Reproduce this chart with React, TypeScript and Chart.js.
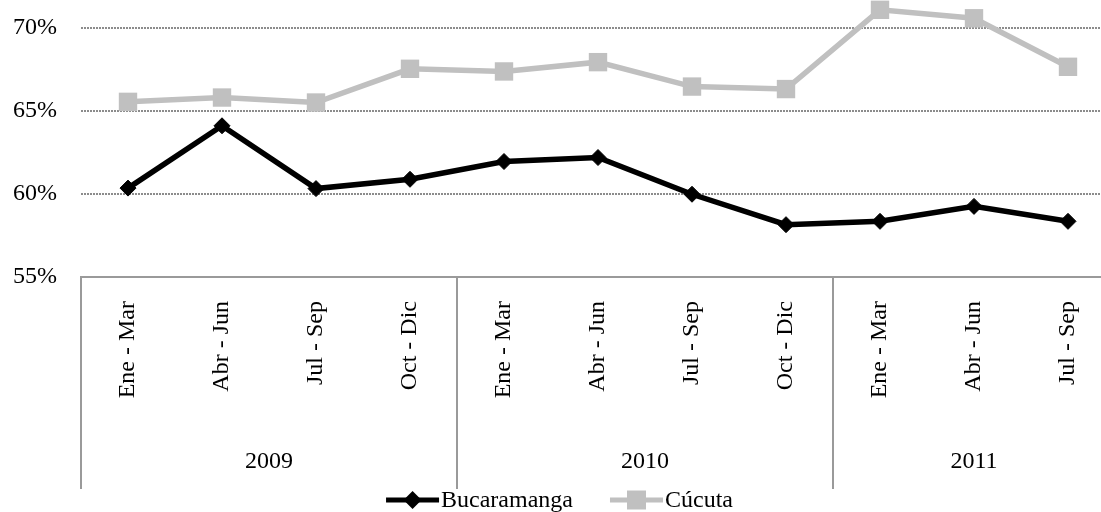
import React, { useEffect, useRef } from 'react';
import { Chart, registerables } from 'chart.js';

Chart.register(...registerables);

const quarters = [
  'Ene - Mar', 'Abr - Jun', 'Jul - Sep', 'Oct - Dic',
  'Ene - Mar', 'Abr - Jun', 'Jul - Sep', 'Oct - Dic',
  'Ene - Mar', 'Abr - Jun', 'Jul - Sep',
];
const years = ['2009', '2010', '2011'];
const yearSizes = [4, 4, 3];
const bucaramanga = [60.35, 64.1, 60.32, 60.88, 61.95, 62.19, 59.98, 58.15, 58.35, 59.25, 58.35];
const cucuta = [65.54, 65.8, 65.5, 67.53, 67.37, 67.93, 66.46, 66.31, 71.08, 70.57, 67.65];
const yTicks = [55, 60, 65, 70];
const seriesNames = ['Bucaramanga', 'Cúcuta'];

const FONT = "'Liberation Serif', 'Times New Roman', serif";
const CANVAS_W = 1115;
const CANVAS_H = 525;
const PLOT_BOTTOM = 277;

function drawMarker(ctx: CanvasRenderingContext2D, style: string, x: number, y: number, color: string) {
  ctx.fillStyle = color;
  ctx.beginPath();
  if (style === 'rectRot') {
    const r = 9;
    ctx.moveTo(x - r, y);
    ctx.lineTo(x, y - r);
    ctx.lineTo(x + r, y);
    ctx.lineTo(x, y + r);
    ctx.closePath();
  } else {
    const s = 9.5;
    ctx.rect(x - s, y - s, 2 * s, 2 * s);
  }
  ctx.fill();
}

const hierarchyPlugin = {
  id: 'hierarchy',
  afterDraw(chart: any) {
    const ctx: CanvasRenderingContext2D = chart.ctx;
    const xs = chart.scales.x;
    const area = chart.chartArea;
    const half = (xs.getPixelForValue(1) - xs.getPixelForValue(0)) / 2;
    ctx.save();
    ctx.strokeStyle = '#9a9a9a';
    ctx.lineWidth = 2;
    const bounds: number[] = [xs.getPixelForValue(0) - half];
    let idx = 0;
    const centers: number[] = [];
    yearSizes.forEach((n) => {
      const first = xs.getPixelForValue(idx);
      idx += n;
      const last = xs.getPixelForValue(idx - 1);
      centers.push((first + last) / 2);
      bounds.push(last + half);
    });
    bounds.forEach((b) => {
      ctx.beginPath();
      ctx.moveTo(b, area.bottom);
      ctx.lineTo(b, area.bottom + 212);
      ctx.stroke();
    });
    ctx.fillStyle = '#000';
    ctx.font = `24px ${FONT}`;
    ctx.textAlign = 'center';
    ctx.textBaseline = 'middle';
    years.forEach((yr, i) => {
      ctx.fillText(yr, centers[i], area.bottom + 185);
    });
    const ly = area.bottom + 223;
    const lineLen = 53;
    const gap = 2;
    const itemGap = 37;
    const widths = chart.data.datasets.map((d: any) => ctx.measureText(d.label).width);
    const total = widths.reduce((a: number, w: number) => a + lineLen + gap + w, 0) + itemGap * (widths.length - 1);
    let lx = chart.width / 2 + 2 - total / 2;
    ctx.textAlign = 'left';
    chart.data.datasets.forEach((d: any, i: number) => {
      ctx.strokeStyle = d.borderColor;
      ctx.lineWidth = 5;
      ctx.beginPath();
      ctx.moveTo(lx, ly);
      ctx.lineTo(lx + lineLen, ly);
      ctx.stroke();
      drawMarker(ctx, d.pointStyle, lx + lineLen / 2, ly, d.pointBackgroundColor);
      ctx.fillStyle = '#000';
      ctx.fillText(d.label, lx + lineLen + gap, ly + 1);
      lx += lineLen + gap + widths[i] + itemGap;
    });
    ctx.restore();
  },
};

export default function App() {
  const ref = useRef<HTMLCanvasElement | null>(null);
  useEffect(() => {
    if (!ref.current) return;
    Chart.defaults.font.family = FONT;
    Chart.defaults.color = '#000';
    const chart = new Chart(ref.current, {
      type: 'line',
      data: {
        labels: quarters,
        datasets: [
          {
            label: seriesNames[0],
            data: bucaramanga,
            borderColor: '#000000',
            backgroundColor: '#000000',
            pointBackgroundColor: '#000000',
            pointBorderColor: '#000000',
            pointStyle: 'rectRot',
            pointRadius: 8,
            pointBorderWidth: 1,
            borderWidth: 5.5,
            tension: 0,
          },
          {
            label: seriesNames[1],
            data: cucuta,
            borderColor: '#c0c0c0',
            backgroundColor: '#c0c0c0',
            pointBackgroundColor: '#c0c0c0',
            pointBorderColor: '#c0c0c0',
            pointStyle: 'rect',
            pointRadius: 13,
            pointBorderWidth: 0,
            borderWidth: 5.5,
            tension: 0,
          },
        ],
      },
      options: {
        animation: false,
        responsive: false,
        maintainAspectRatio: false,
        layout: { padding: 0, autoPadding: false },
        plugins: {
          legend: { display: false },
          tooltip: { enabled: false },
        },
        scales: {
          x: {
            type: 'category',
            offset: true,
            grid: { display: false, drawTicks: false },
            border: { display: true, color: '#9a9a9a', width: 2 },
            ticks: {
              minRotation: 90,
              maxRotation: 90,
              autoSkip: false,
              padding: 24,
              font: { size: 24, family: FONT },
              color: '#000',
            },
            afterFit: (s: any) => {
              s.height = CANVAS_H - PLOT_BOTTOM;
              s.paddingLeft = 0;
              s.paddingRight = 0;
            },
          },
          y: {
            min: 55,
            max: 71.67,
            grid: {
              drawTicks: false,
              lineWidth: 2,
              color: (c: any) => (c.tick && c.tick.value === 55 ? 'rgba(0,0,0,0)' : '#8c8c8c'),
            },
            border: { display: false, dash: [2, 1] },
            ticks: {
              padding: 24,
              font: { size: 24, family: FONT },
              color: '#000',
              callback: (v: any) => `${v}%`,
            },
            afterBuildTicks: (s: any) => {
              s.ticks = yTicks.map((v) => ({ value: v }));
            },
            afterFit: (s: any) => {
              s.width = 81;
              s.paddingTop = 0;
              s.paddingBottom = 0;
            },
          },
        },
      },
      plugins: [hierarchyPlugin],
    } as any);
    return () => chart.destroy();
  }, []);
  return (
    <div style={{ position: 'fixed', left: 0, top: 0, width: 1101, height: 512, overflow: 'hidden', background: '#fff' }}>
      <canvas ref={ref} width={CANVAS_W} height={CANVAS_H} style={{ display: 'block', width: CANVAS_W, height: CANVAS_H }} />
    </div>
  );
}
